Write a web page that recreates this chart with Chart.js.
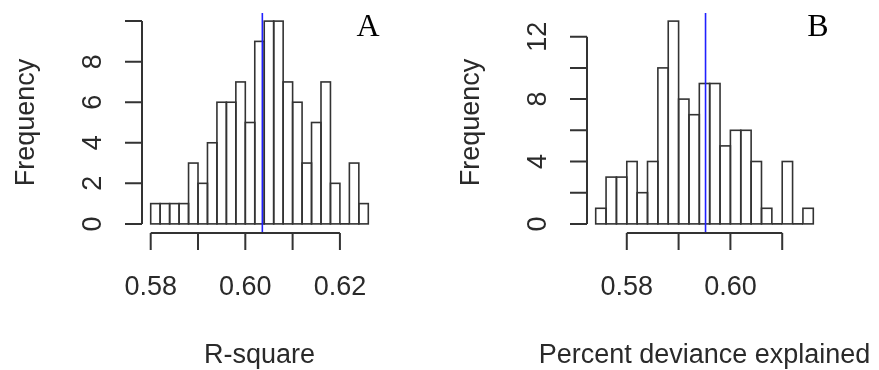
<!DOCTYPE html>
<html>
<head>
<meta charset="utf-8">
<script src="https://cdn.jsdelivr.net/npm/chart.js@4.4.1/dist/chart.umd.min.js"></script>
<style>
  html, body { margin: 0; padding: 0; background: #fff; }
  #wrap { position: relative; width: 879px; height: 370px; }
  canvas { position: absolute; top: 0; }
  #histA { left: 0; }
  #histB { left: 440px; }
</style>
</head>
<body>
<div id="wrap">
  <canvas id="histA" width="440" height="370"></canvas>
  <canvas id="histB" width="439" height="370"></canvas>
</div>
<script>
// R-square histogram (panel A)
var rsqStart = 0.580;
var rsqBinWidth = 0.002;
var rsqCounts = [1, 1, 1, 1, 3, 2, 4, 6, 6, 7, 5, 9, 10, 10, 7, 6, 3, 5, 7, 2, 0, 3, 1];
var rsqMean = 0.6036;
var rsqXTicks = [0.58, 0.59, 0.60, 0.61, 0.62];
var rsqXLabels = ['0.58', '', '0.60', '', '0.62'];
var rsqYTicks = [0, 2, 4, 6, 8, 10];
var rsqYLabels = ['0', '2', '4', '6', '8', ''];

// Percent deviance explained histogram (panel B)
var devStart = 0.574;
var devBinWidth = 0.002;
var devCounts = [1, 3, 3, 4, 2, 4, 10, 13, 8, 7, 9, 9, 5, 6, 6, 4, 1, 0, 4, 0, 1];
var devMean = 0.5952;
var devXTicks = [0.58, 0.59, 0.60, 0.61];
var devXLabels = ['0.58', '', '0.60', ''];
var devYTicks = [0, 2, 4, 6, 8, 10, 12];
var devYLabels = ['0', '', '4', '', '8', '', '12'];

var INK = '#2a2a2a';
var LINE = '#333333';
var SANS = '27px "Liberation Sans", Arial, sans-serif';

// R-style axes, bar outlines, mean line and panel letter
var rAxesPlugin = {
    id: 'rAxes',
    afterDatasetsDraw: function(chart, args, o) {
        var ctx = chart.ctx;
        var area = chart.chartArea;
        var xs = chart.scales.x;
        var ys = chart.scales.y;
        var meta = chart.getDatasetMeta(0);

        ctx.save();
        // bar outlines centred on the bin edges
        ctx.strokeStyle = LINE;
        ctx.lineWidth = 1.6;
        meta.data.forEach(function(bar) {
            var p = bar.getProps(['x', 'y', 'base', 'width'], true);
            ctx.strokeRect(p.x - p.width / 2, p.y, p.width, p.base - p.y);
        });

        // mean line
        var mx = xs.getPixelForValue(o.mean);
        ctx.strokeStyle = '#2020ff';
        ctx.lineWidth = 1.6;
        ctx.beginPath();
        ctx.moveTo(mx, area.top);
        ctx.lineTo(mx, area.bottom);
        ctx.stroke();

        // x axis
        var tick = 17;
        ctx.strokeStyle = LINE;
        ctx.lineWidth = 2;
        var yb = area.bottom + 1;
        ctx.beginPath();
        ctx.moveTo(xs.getPixelForValue(o.xTicks[0]), yb);
        ctx.lineTo(xs.getPixelForValue(o.xTicks[o.xTicks.length - 1]), yb);
        o.xTicks.forEach(function(v) {
            var px = xs.getPixelForValue(v);
            ctx.moveTo(px, yb);
            ctx.lineTo(px, yb + tick);
        });
        ctx.stroke();

        ctx.fillStyle = INK;
        ctx.font = SANS;
        ctx.textAlign = 'center';
        ctx.textBaseline = 'alphabetic';
        o.xTicks.forEach(function(v, i) {
            if (o.xLabels[i]) ctx.fillText(o.xLabels[i], xs.getPixelForValue(v), 295);
        });
        ctx.fillText(o.xTitle, (area.left + area.right) / 2, 363);

        // y axis
        var xl = area.left;
        ctx.beginPath();
        ctx.moveTo(xl, ys.getPixelForValue(o.yTicks[0]));
        ctx.lineTo(xl, ys.getPixelForValue(o.yTicks[o.yTicks.length - 1]));
        o.yTicks.forEach(function(v) {
            var py = ys.getPixelForValue(v);
            ctx.moveTo(xl, py);
            ctx.lineTo(xl - tick, py);
        });
        ctx.stroke();

        o.yTicks.forEach(function(v, i) {
            if (!o.yLabels[i]) return;
            ctx.save();
            ctx.translate(xl - 41, ys.getPixelForValue(v));
            ctx.rotate(-Math.PI / 2);
            ctx.fillText(o.yLabels[i], 0, 0);
            ctx.restore();
        });
        ctx.save();
        ctx.translate(xl - 108.5, (area.top + area.bottom) / 2);
        ctx.rotate(-Math.PI / 2);
        ctx.fillText('Frequency', 0, 0);
        ctx.restore();

        // panel letter
        ctx.fillStyle = '#000';
        ctx.font = '32px "Liberation Serif", "Times New Roman", serif';
        ctx.fillText(o.letter, o.letterX, 36);
        ctx.restore();
    }
};

function makeHist(id, start, width, counts, padding, opts) {
    var end = start + width * counts.length;
    var ext = (end - start) * 0.04;
    var yMax = Math.max.apply(null, counts);
    var points = counts.map(function(c, i) {
        return { x: start + width * (i + 0.5), y: c };
    });
    return new Chart(document.getElementById(id).getContext('2d'), {
        type: 'bar',
        data: {
            datasets: [{
                data: points,
                backgroundColor: '#ffffff',
                borderWidth: 0,
                barPercentage: 1,
                categoryPercentage: 1
            }]
        },
        options: {
            responsive: false,
            animation: false,
            layout: { padding: padding },
            scales: {
                x: { type: 'linear', offset: false, min: start - ext, max: end + ext, display: false },
                y: { min: -yMax * 0.04, max: yMax * 1.04, display: false }
            },
            plugins: {
                legend: { display: false },
                tooltip: { enabled: false },
                rAxes: opts
            }
        },
        plugins: [rAxesPlugin]
    });
}

makeHist('histA', rsqStart, rsqBinWidth, rsqCounts,
    { left: 142, right: 63, top: 13, bottom: 138 },
    { mean: rsqMean, xTicks: rsqXTicks, xLabels: rsqXLabels, yTicks: rsqYTicks, yLabels: rsqYLabels,
      xTitle: 'R-square', letter: 'A', letterX: 368 });

makeHist('histB', devStart, devBinWidth, devCounts,
    { left: 147, right: 57, top: 13, bottom: 138 },
    { mean: devMean, xTicks: devXTicks, xLabels: devXLabels, yTicks: devYTicks, yLabels: devYLabels,
      xTitle: 'Percent deviance explained', letter: 'B', letterX: 378 });
</script>
</body>
</html>
